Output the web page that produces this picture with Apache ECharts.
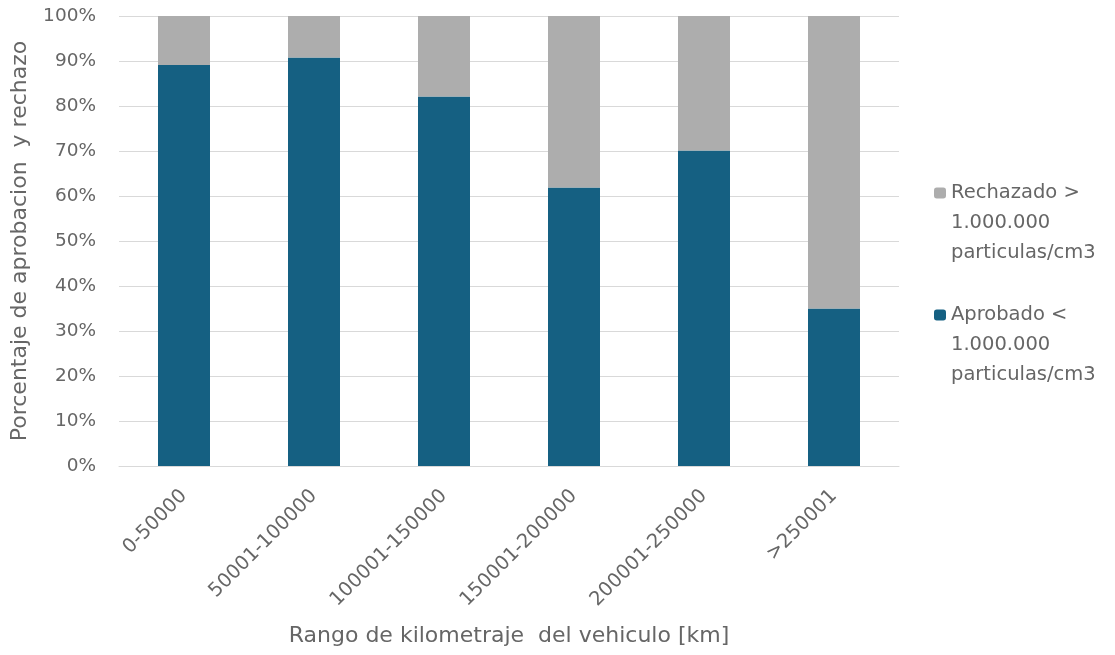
<!DOCTYPE html>
<html>
<head>
<meta charset="utf-8">
<script src="https://cdn.jsdelivr.net/npm/echarts@6/dist/echarts.min.js"></script>
<style>
  html, body { margin: 0; padding: 0; background: #fff; }
  #chart { width: 1115px; height: 655px; }
</style>
</head>
<body>
<div id="chart"></div>
<script>
// Kilometre ranges of the tested vehicles
const categories = ['0-50000', '50001-100000', '100001-150000', '150001-200000', '200001-250000', '>250001'];
// Share of vehicles passing (< 1.000.000 particles/cm3), percent
const aprobado = [89.1, 90.8, 82.1, 61.9, 70.1, 35.0];
// Share of vehicles failing (> 1.000.000 particles/cm3), percent
const rechazado = [10.9, 9.2, 17.9, 38.1, 29.9, 65.0];
const yTicks = [0, 10, 20, 30, 40, 50, 60, 70, 80, 90, 100];

const nameAprobado = 'Aprobado <\n1.000.000\nparticulas/cm3';
const nameRechazado = 'Rechazado >\n1.000.000\nparticulas/cm3';

const textColor = '#666666';
const fontFamily = '"DejaVu Sans", sans-serif';

const chart = echarts.init(document.getElementById('chart'), null, { renderer: 'canvas' });
chart.setOption({
  animation: false,
  textStyle: { fontFamily: fontFamily, color: textColor },
  grid: { left: 119, right: 216, top: 16, bottom: 189, containLabel: false, outerBoundsMode: 'none' },
  legend: {
    orient: 'vertical',
    left: 934,
    top: 118,
    padding: 0,
    itemWidth: 12,
    itemHeight: 11,
    itemGap: -28,
    data: [nameRechazado, nameAprobado],
    // two empty lines above each name keep the marker level with its first line
    formatter: function (name) { return '\n\n' + name; },
    textStyle: { color: textColor, fontSize: 19.5, lineHeight: 30, fontFamily: fontFamily }
  },
  xAxis: {
    type: 'category',
    data: categories,
    name: 'Rango de kilometraje  del vehiculo [km]',
    nameLocation: 'middle',
    nameGap: 159,
    nameTextStyle: { color: textColor, fontSize: 22, fontFamily: fontFamily },
    axisLine: { lineStyle: { color: '#d9d9d9', width: 1 } },
    axisTick: { show: false },
    axisLabel: { rotate: 45, color: textColor, fontSize: 19.5, margin: 27, interval: 0, fontFamily: fontFamily }
  },
  yAxis: {
    type: 'value',
    min: 0,
    max: 100,
    interval: 10,
    name: 'Porcentaje de aprobacion  y rechazo',
    nameLocation: 'middle',
    nameGap: 88,
    nameTextStyle: { color: textColor, fontSize: 22, fontFamily: fontFamily },
    axisLine: { show: false },
    axisTick: { show: false },
    splitLine: { lineStyle: { color: '#d9d9d9', width: 1 } },
    axisLabel: {
      color: textColor,
      fontSize: 18.5,
      margin: 23,
      fontFamily: fontFamily,
      formatter: function (v) { return yTicks.indexOf(v) >= 0 ? v + '%' : ''; }
    }
  },
  series: [
    {
      name: nameAprobado,
      type: 'bar',
      stack: 'total',
      data: aprobado,
      barWidth: 52,
      itemStyle: { color: '#156082' }
    },
    {
      name: nameRechazado,
      type: 'bar',
      stack: 'total',
      data: rechazado,
      barWidth: 52,
      itemStyle: { color: '#adadad' }
    }
  ]
});
</script>
</body>
</html>
